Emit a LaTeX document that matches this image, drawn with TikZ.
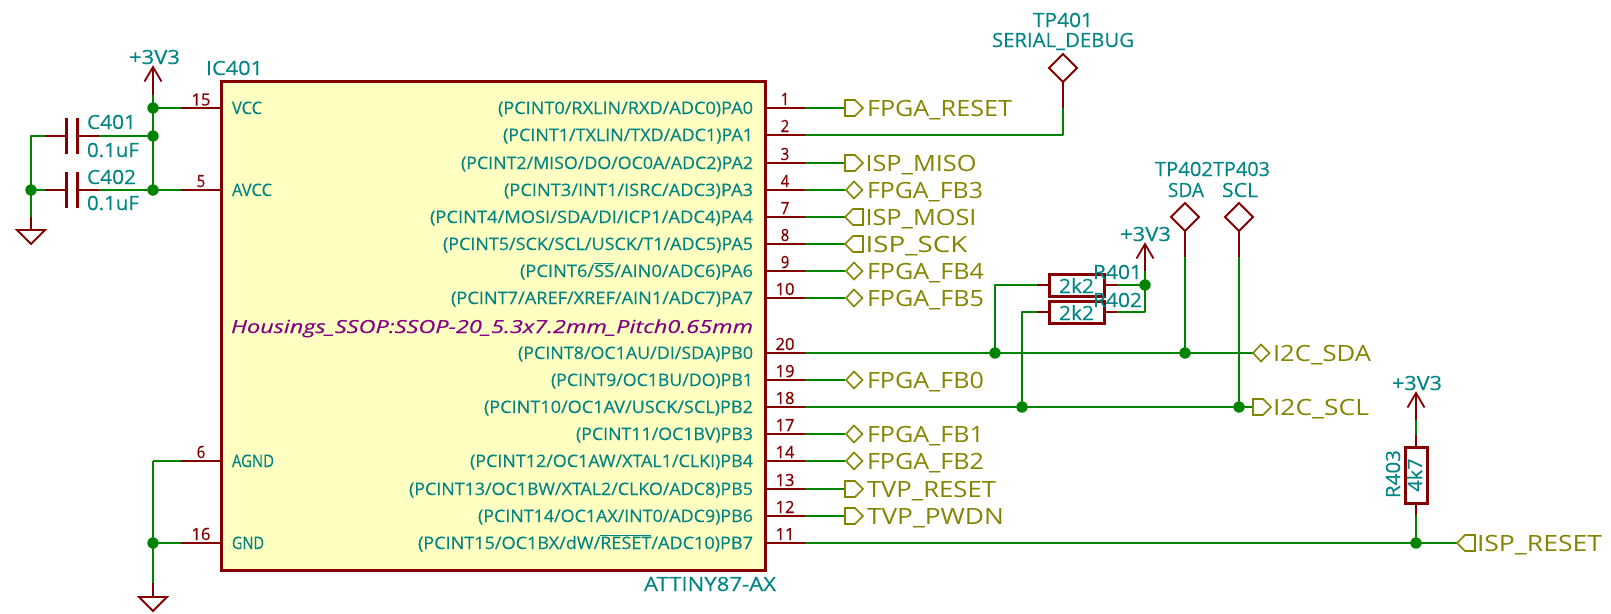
\documentclass[tikz,border=0pt]{standalone}
\usepackage{fontspec}
\usepackage{graphicx}
\setmainfont{Open Sans}
\definecolor{kred}{RGB}{132,0,0}
\definecolor{kgreen}{RGB}{0,132,0}
\definecolor{kteal}{RGB}{0,132,132}
\definecolor{kolive}{RGB}{132,132,0}
\definecolor{kpurple}{RGB}{132,0,132}
\definecolor{kfill}{RGB}{255,255,194}
\newsavebox\kbox
\newcommand\fitw[2]{\sbox\kbox{#2}\pgfmathsetmacro\kr{#1/\the\wd\kbox}\scalebox{\kr}[1]{\usebox\kbox}}
% name, anchor, position, width, style, text
\newcommand\kt[6]{\node[#5,anchor=#2] (#1) at (#3) {\fitw{#4}{#6}};}
% pin on the right of the IC: name, y, number, pin text, pin text left edge
\newcommand\rpin[5]{%
  \coordinate (p#1) at (765,#2);
  \coordinate (e#1) at (805,#2);
  \coordinate (f#1) at (845,#2);
  \draw[pinline] (p#1) -- (e#1);
  \pgfmathsetmacro\tw{753-#5}
  \kt{n#1}{base east}{753,#2+6}{\tw}{pinname}{#4}
  \pgfmathsetmacro\dw{#3>9?19:8.5}
  \kt{d#1}{base}{785,#2-3}{\dw}{pinnum}{#3}
}
\newcommand\foutf[1]{\draw[flag] (#1) ++(0,-8) -- ++(10,0) -- ++(8,8) -- ++(-8,8) -- ++(-10,0) -- cycle;}
\newcommand\finf[1]{\draw[flag] (#1) -- ++(8,-8) -- ++(10,0) -- ++(0,16) -- ++(-10,0) -- cycle;}
\newcommand\fbid[1]{\draw[flag] (#1) ++(1,0) -- ++(8,-8.5) -- ++(8.5,8.5) -- ++(-8.5,8.5) -- cycle;}
\newcommand\pwr[1]{\draw[pinline] (#1) ++(-8.5,14.5) -- ++(8.5,-14.5) -- ++(8.5,14.5);}
\newcommand\gndsym[1]{\draw[pinline] (#1) -- ++(14,0) -- ++(-14,14) -- ++(-14,-14) -- cycle;}
\newcommand\tpsym[1]{\draw[pinline] (#1) -- ++(14,14) -- ++(-14,14) -- ++(-14,-14) -- cycle;}
\tikzset{
  wire/.style={draw=kgreen,line width=1.8pt,line join=round},
  pinline/.style={draw=kred,line width=1.8pt,line join=miter},
  part/.style={draw=kred,line width=3pt},
  flag/.style={draw=kolive,line width=1.6pt,line join=miter},
  dot/.style={fill=kgreen},
  txt/.style={inner sep=0pt,outer sep=0pt},
  pinname/.style={txt,text=kteal,font=\fontsize{17.2}{18}\selectfont\addfontfeature{FakeBold=0.25}},
  pinnum/.style={txt,text=kred,font=\fontsize{16.8}{18}\selectfont\addfontfeature{FakeBold=0.7}},
  ref/.style={txt,text=kteal,font=\fontsize{19.6}{21}\selectfont\addfontfeature{FakeBold=0.25}},
  netl/.style={txt,text=kolive,font=\fontsize{22.4}{24}\selectfont},
  fprint/.style={txt,text=kpurple,font=\fontsize{18}{19}\selectfont\itshape\addfontfeature{FakeBold=0.25}},
}
\begin{document}
\begin{tikzpicture}[x=1pt,y=-1pt]
\useasboundingbox (0,0) rectangle (1611,613);
% IC
\coordinate (ictl) at (221,81);
\coordinate (icbr) at (765,570);
\filldraw[part,fill=kfill] (ictl) rectangle (icbr);
% right pins
\rpin{A0}{108}{1}{(PCINT0/RXLIN/RXD/ADC0)PA0}{498}
\rpin{A1}{135}{2}{(PCINT1/TXLIN/TXD/ADC1)PA1}{503}
\rpin{A2}{163}{3}{(PCINT2/MISO/DO/OC0A/ADC2)PA2}{461}
\rpin{A3}{190}{4}{(PCINT3/INT1/ISRC/ADC3)PA3}{504}
\rpin{A4}{217}{7}{(PCINT4/MOSI/SDA/DI/ICP1/ADC4)PA4}{430}
\rpin{A5}{244}{8}{(PCINT5/SCK/SCL/USCK/T1/ADC5)PA5}{443}
\rpin{A6}{271}{9}{(PCINT6/$\overline{\mbox{SS}}$/AIN0/ADC6)PA6}{520}
\rpin{A7}{298}{10}{(PCINT7/AREF/XREF/AIN1/ADC7)PA7}{451}
\rpin{B0}{353}{20}{(PCINT8/OC1AU/DI/SDA)PB0}{518}
\rpin{B1}{380}{19}{(PCINT9/OC1BU/DO)PB1}{551}
\rpin{B2}{407}{18}{(PCINT10/OC1AV/USCK/SCL)PB2}{484}
\rpin{B3}{434}{17}{(PCINT11/OC1BV)PB3}{576}
\rpin{B4}{461}{14}{(PCINT12/OC1AW/XTAL1/CLKI)PB4}{470}
\rpin{B5}{489}{13}{(PCINT13/OC1BW/XTAL2/CLKO/ADC8)PB5}{409}
\rpin{B6}{516}{12}{(PCINT14/OC1AX/INT0/ADC9)PB6}{478}
\rpin{B7}{543}{11}{(PCINT15/OC1BX/dW/$\overline{\mbox{RESET}}$/ADC10)PB7}{418}
\kt{fp}{base east}{753,333}{522}{fprint}{Housings\_SSOP:SSOP-20\_5.3x7.2mm\_Pitch0.65mm}
\kt{icref}{base west}{206,75}{57}{ref}{IC401}
\kt{icval}{base west}{644,591}{132}{ref}{ATTINY87-AX}
% left pins
\coordinate (pV) at (221,108); \coordinate (eV) at (181,108); \coordinate (jV) at (153,108);
\coordinate (pAV) at (221,190); \coordinate (eAV) at (181,190); \coordinate (jAV) at (153,190);
\coordinate (pAG) at (221,461); \coordinate (eAG) at (181,461); \coordinate (cAG) at (153,461);
\coordinate (pG) at (221,543); \coordinate (eG) at (181,543); \coordinate (jG) at (153,543);
\foreach \a/\b in {pV/eV,pAV/eAV,pAG/eAG,pG/eG} \draw[pinline] (\a) -- (\b);
\draw[wire] (eV) -- (jV) (eAV) -- (jAV) (eAG) -- (cAG) (eG) -- (jG);
\kt{nV}{base west}{232,114}{30}{pinname}{VCC}
\kt{nAV}{base west}{232,196}{40}{pinname}{AVCC}
\kt{nAG}{base west}{232,467}{42}{pinname}{AGND}
\kt{nG}{base west}{232,549}{32}{pinname}{GND}
\kt{dV}{base}{201,105.5}{19}{pinnum}{15}
\kt{dAV}{base}{201,187}{8.5}{pinnum}{5}
\kt{dAG}{base}{201,458}{8.5}{pinnum}{6}
\kt{dG}{base}{201,540}{19}{pinnum}{16}
% supply rail and capacitors
\coordinate (pw1) at (153,67); \coordinate (pw1e) at (153,95);
\coordinate (jC1) at (153,136);
\coordinate (capL) at (31,136); \coordinate (jGl) at (31,190); \coordinate (gl1) at (31,217); \coordinate (gt1) at (31,230);
\coordinate (c1l) at (45,136); \coordinate (c1a) at (66.5,136); \coordinate (c1b) at (77.5,136); \coordinate (c1r) at (99,136);
\coordinate (c2l) at (45,190); \coordinate (c2a) at (66.5,190); \coordinate (c2b) at (77.5,190); \coordinate (c2r) at (99,190);
\draw[wire] (pw1e) -- (jV) -- (jC1) -- (jAV);
\draw[wire] (jC1) -- (c1r) (c1l) -- (capL) -- (jGl) -- (gl1) (jGl) -- (c2l) (c2r) -- (jAV);
\draw[pinline] (pw1) -- (pw1e) (gl1) -- (gt1);
\draw[pinline] (c1l) -- (c1a) (c1b) -- (c1r) (c2l) -- (c2a) (c2b) -- (c2r);
\draw[part,line width=3.4pt] (c1a) ++(0,-18) -- ++(0,36) (c1b) ++(0,-18) -- ++(0,36);
\draw[part,line width=3.4pt] (c2a) ++(0,-18) -- ++(0,36) (c2b) ++(0,-18) -- ++(0,36);
\pwr{pw1}
\gndsym{gt1}
\coordinate (gl2) at (153,583); \coordinate (gt2) at (153,597);
\draw[wire] (cAG) -- (jG) -- (gl2);
\draw[pinline] (gl2) -- (gt2);
\gndsym{gt2}
\foreach \j in {jV,jC1,jAV,jGl,jG} \fill[dot] (\j) circle[radius=5.7pt];
\kt{c1n}{base west}{87,129}{49}{ref}{C401}
\kt{c1v}{base west}{87,157}{52}{ref}{0.1uF}
\kt{c2n}{base west}{87,184}{49}{ref}{C402}
\kt{c2v}{base west}{87,210}{52}{ref}{0.1uF}
\kt{pw1t}{base west}{129,64}{51}{ref}{+3V3}
% simple flags
\foreach \k in {A0,A2,A3,A4,A5,A6,A7,B1,B3,B4,B5,B6} \draw[wire] (e\k) -- (f\k);
\foutf{fA0}\foutf{fA2}\foutf{fB5}\foutf{fB6}
\finf{fA4}\finf{fA5}
\fbid{fA3}\fbid{fA6}\fbid{fA7}\fbid{fB1}\fbid{fB3}\fbid{fB4}
\kt{lA0}{base west}{867,116}{145}{netl}{FPGA\_RESET}
\kt{lA2}{base west}{865.5,171}{111}{netl}{ISP\_MISO}
\kt{lA3}{base west}{867,198}{116}{netl}{FPGA\_FB3}
\kt{lA4}{base west}{865.5,225}{111}{netl}{ISP\_MOSI}
\kt{lA5}{base west}{865.5,252}{102}{netl}{ISP\_SCK}
\kt{lA6}{base west}{867,279}{117}{netl}{FPGA\_FB4}
\kt{lA7}{base west}{867,306}{117}{netl}{FPGA\_FB5}
\kt{lB1}{base west}{867,388}{117}{netl}{FPGA\_FB0}
\kt{lB3}{base west}{867,442}{117}{netl}{FPGA\_FB1}
\kt{lB4}{base west}{867,469}{117}{netl}{FPGA\_FB2}
\kt{lB5}{base west}{867,497}{129}{netl}{TVP\_RESET}
\kt{lB6}{base west}{867,524}{137}{netl}{TVP\_PWDN}
% TP401
\coordinate (tp1) at (1063,68); \coordinate (tp1b) at (1063,82); \coordinate (tp1e) at (1063,108); \coordinate (tp1c) at (1063,135);
\draw[wire] (eA1) -- (tp1c) -- (tp1e);
\draw[pinline] (tp1b) -- (tp1e);
\tpsym{1063,54}
\kt{tp1n}{base west}{1033,27}{60}{ref}{TP401}
\kt{tp1v}{base west}{992,47}{142}{ref}{SERIAL\_DEBUG}
% I2C
\coordinate (fSDA) at (1253,353); \coordinate (fSCL) at (1253,407);
\coordinate (jS1) at (995,353); \coordinate (jS2) at (1185,353);
\coordinate (jC2) at (1022,407); \coordinate (jC3) at (1239,407);
\coordinate (r1l) at (995,285); \coordinate (r1a) at (1037,285); \coordinate (r1b) at (1049,285);
\coordinate (r1c) at (1104,285); \coordinate (r1d) at (1117,285); \coordinate (j33) at (1145,285);
\coordinate (r2l) at (1022,312); \coordinate (r2a) at (1037,312); \coordinate (r2b) at (1049,312);
\coordinate (r2c) at (1104,312); \coordinate (r2d) at (1117,312); \coordinate (r2r) at (1145,312);
\coordinate (pw2) at (1145,244); \coordinate (pw2e) at (1145,271);
\coordinate (tp2e) at (1185,230); \coordinate (tp2g) at (1185,257);
\coordinate (tp3e) at (1239,230); \coordinate (tp3g) at (1239,257);
\draw[wire] (eB0) -- (fSDA) (eB2) -- (fSCL);
\draw[wire] (jS1) -- (r1l) -- (r1a) (jC2) -- (r2l) -- (r2a);
\draw[wire] (r1d) -- (j33) (r2d) -- (r2r) -- (j33) -- (pw2e);
\draw[wire] (tp2g) -- (jS2) (tp3g) -- (jC3);
\draw[pinline] (r1a) -- (r1b) (r1c) -- (r1d) (r2a) -- (r2b) (r2c) -- (r2d);
\draw[pinline] (pw2) -- (pw2e) (tp2e) -- (tp2g) (tp3e) -- (tp3g);
\pwr{pw2}
\tpsym{1185,203}\tpsym{1239,203}
\draw[part] (1049,274) rectangle (1104,296);
\draw[part] (1049,301) rectangle (1104,323);
\fbid{1252,353}\foutf{fSCL}
\foreach \j in {jS1,jS2,jC2,jC3,j33} \fill[dot] (\j) circle[radius=5.7pt];
\kt{tp2n}{base west}{1155,176}{58}{ref}{TP402}
\kt{tp2v}{base west}{1168,197}{36}{ref}{SDA}
\kt{tp3n}{base west}{1213,176}{57}{ref}{TP403}
\kt{tp3v}{base west}{1222,197}{36}{ref}{SCL}
\kt{pw2t}{base west}{1120,241}{51}{ref}{+3V3}
\kt{r1n}{base west}{1093,279}{49}{ref}{R401}
\kt{r1v}{base west}{1059,293}{35}{ref}{2k2}
\kt{r2n}{base west}{1093,307}{49}{ref}{R402}
\kt{r2v}{base west}{1059,320}{35}{ref}{2k2}
\kt{lSDA}{base west}{1273,361}{98}{netl}{I2C\_SDA}
\kt{lSCL}{base west}{1273,415}{96}{netl}{I2C\_SCL}
% R403 and reset
\coordinate (pw3) at (1416,393); \coordinate (pw3e) at (1416,420); \coordinate (r3g) at (1416,435);
\coordinate (r3t) at (1416,447); \coordinate (r3b) at (1416,503); \coordinate (r3r) at (1416,515);
\coordinate (j3) at (1416,543); \coordinate (fRST) at (1457,543);
\draw[wire] (eB7) -- (fRST) (pw3e) -- (r3g) (r3r) -- (j3);
\draw[pinline] (pw3) -- (pw3e) (r3g) -- (r3t) (r3b) -- (r3r);
\pwr{pw3}
\draw[part] (1405,447) rectangle (1427.5,503);
\finf{fRST}
\fill[dot] (j3) circle[radius=5.7pt];
\kt{pw3t}{base west}{1392,390}{50}{ref}{+3V3}
\node[ref,rotate=90,anchor=base] (r3n) at (1400,474) {\fitw{48}{R403}};
\node[ref,rotate=90,anchor=base] (r3v) at (1422,475) {\fitw{33}{4k7}};
\kt{lRST}{base west}{1477,551}{125}{netl}{ISP\_RESET}
\end{tikzpicture}
\end{document}
